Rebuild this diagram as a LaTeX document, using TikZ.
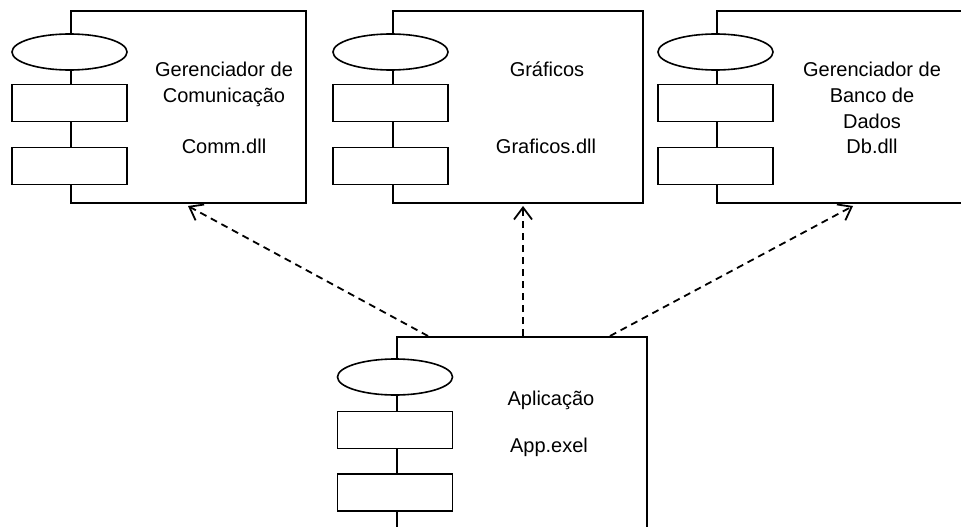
\documentclass[tikz,border=0pt]{standalone}
\usepackage{fontspec}
\setmainfont{Liberation Sans}
\usetikzlibrary{shapes.geometric,arrows.meta,calc}

\tikzset{
  comp/.style={draw, line width=2pt, fill=white, rectangle, anchor=north west, inner sep=0pt},
  port/.style={draw, line width=1.6pt, fill=white, rectangle, minimum width=115pt, minimum height=37pt, inner sep=0pt},
  iface/.style={draw, line width=1.6pt, fill=white, ellipse, minimum width=115pt, minimum height=36pt, inner sep=0pt},
  lbl/.style={anchor=base, inner sep=0pt, font=\fontsize{20}{25}\selectfont},
  dep/.style={line width=1.8pt, dash pattern=on 7pt off 5pt, -{Straight Barb[length=12pt,width=18pt,line width=1.8pt]}}
}

\begin{document}
\begin{tikzpicture}[x=1pt,y=-1pt]
\clip (0,0) rectangle (961,527);
\fill[white] (0,0) rectangle (961,527);

% component: communication manager
\node[comp, minimum width=235pt, minimum height=192pt] (comm) at (70,10) {};
\node[iface] (commI) at (69.5,52) {};
\node[port] (commP1) at (69.5,103) {};
\node[port] (commP2) at (69.5,166) {};
\node[lbl] (commT1) at (224,77) {Gerenciador de};
\node[lbl] (commT2) at (224,102) {Comunicação};
\node[lbl] (commT3) at (224,153) {Comm.dll};

% component: graphics
\node[comp, minimum width=250pt, minimum height=192pt] (graf) at (392,10) {};
\node[iface] (grafI) at (390.5,52) {};
\node[port] (grafP1) at (390.5,103) {};
\node[port] (grafP2) at (390.5,166) {};
\node[lbl] (grafT1) at (547,77) {Gráficos};
\node[lbl] (grafT2) at (546,153) {Graficos.dll};

% component: database manager
\node[comp, minimum width=270pt, minimum height=192pt] (db) at (716,10) {};
\node[iface] (dbI) at (715.5,52) {};
\node[port] (dbP1) at (715.5,103) {};
\node[port] (dbP2) at (715.5,166) {};
\node[lbl] (dbT1) at (872,77) {Gerenciador de};
\node[lbl] (dbT2) at (872,102) {Banco de};
\node[lbl] (dbT3) at (872,128) {Dados};
\node[lbl] (dbT4) at (872,153) {Db.dll};

% component: application
\node[comp, minimum width=250pt, minimum height=220pt] (app) at (396,336) {};
\node[iface] (appI) at (395,377) {};
\node[port] (appP1) at (395,430) {};
\node[port] (appP2) at (395,492.5) {};
\node[lbl] (appT1) at (551,405) {Aplicação};
\node[lbl] (appT2) at (549,452) {App.exel};

% dependencies
\draw[dep] ($(app.north west)+(32,0)$) -- ($(comm.south west)+(118,2)$);
\draw[dep] ($(app.north west)+(127,0)$) -- ($(graf.south west)+(131,2)$);
\draw[dep] ($(app.north west)+(214,0)$) -- ($(db.south west)+(137,2)$);
\end{tikzpicture}
\end{document}
